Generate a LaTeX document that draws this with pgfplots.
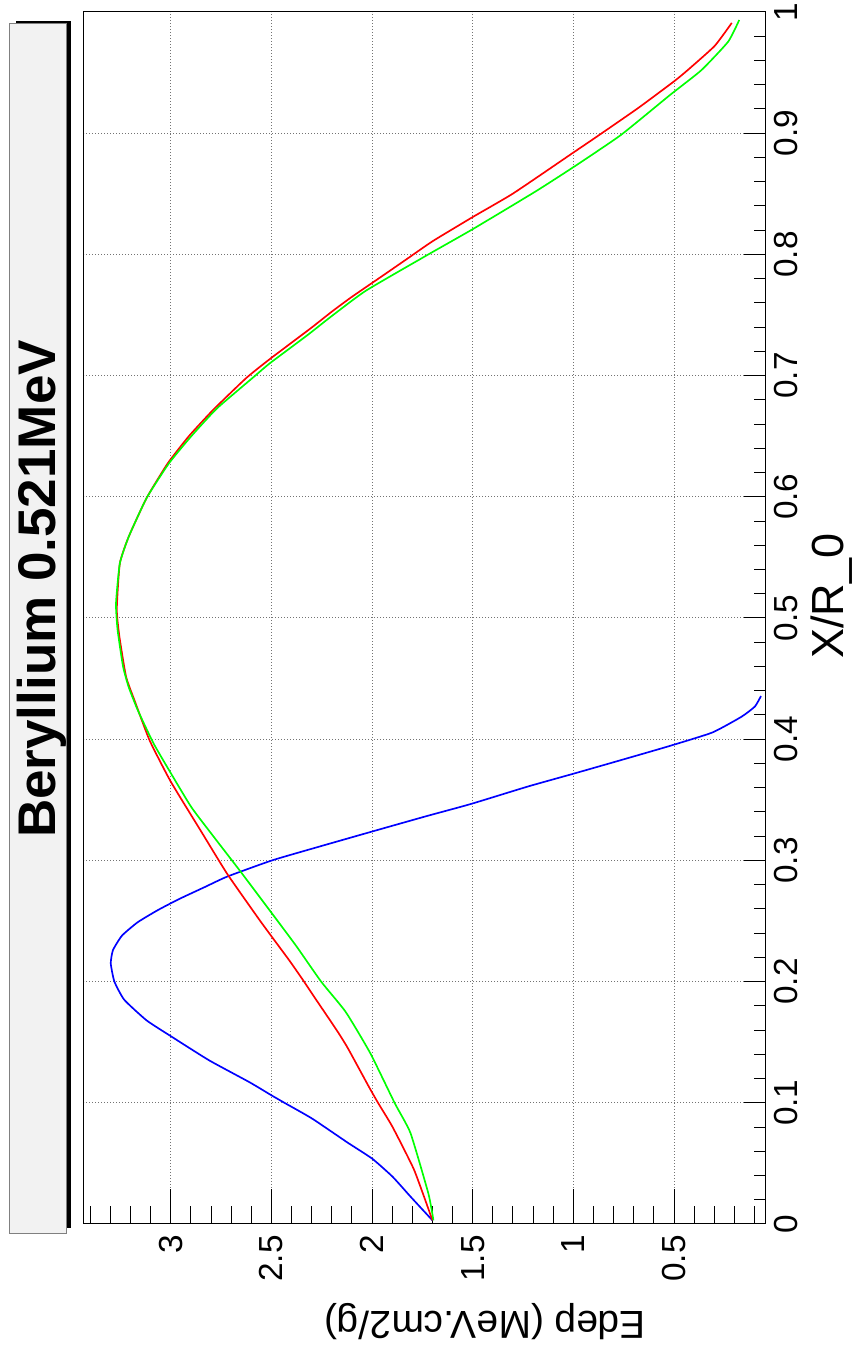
\documentclass[border=0pt]{standalone}
\usepackage{pgfplots}
\pgfplotsset{compat=1.18}
\usepackage{fontspec}
\setmainfont{Liberation Sans}
\definecolor{rootred}{RGB}{255,0,0}
\definecolor{rootgreen}{RGB}{0,255,0}
\definecolor{rootblue}{RGB}{0,0,255}
\definecolor{titlegray}{RGB}{242,242,242}

\pgfplotstableread{
v u
1.700 0.003
1.809 0.0226
1.898 0.039
2.000 0.054
2.120 0.067
2.298 0.087
2.431 0.0996
2.498 0.106
2.609 0.117
2.809 0.135
3.000 0.155
3.120 0.168
3.231 0.185
3.280 0.200
3.298 0.215
3.287 0.226
3.242 0.238
3.164 0.249
3.064 0.259
2.960 0.268
2.831 0.278
2.720 0.2866
2.497 0.300
2.270 0.311
1.996 0.324
1.730 0.3365
1.510 0.3465
1.225 0.361
1.000 0.3715
0.800 0.3810
0.530 0.394
0.310 0.4055
0.164 0.4186
0.098 0.427
0.068 0.4356
}\blueset

\pgfplotstableread{
v u
1.700 0.003
1.791 0.0446
1.898 0.080
1.969 0.0996
2.015 0.113
2.120 0.145
2.176 0.160
2.298 0.190
2.342 0.201
2.409 0.217
2.498 0.237
2.564 0.252
2.720 0.289
2.853 0.325
3.000 0.365
3.105 0.399
3.180 0.432
3.222 0.4516
3.255 0.4846
3.268 0.507
3.253 0.545
3.209 0.567
3.120 0.599
3.015 0.6276
2.910 0.650
2.790 0.6716
2.625 0.698
2.505 0.714
2.305 0.739
2.198 0.753
2.100 0.765
1.942 0.783
1.820 0.797
1.698 0.811
1.498 0.831
1.298 0.8504
1.009 0.883
0.876 0.898
0.676 0.921
0.498 0.943
0.431 0.9522
0.298 0.972
0.213 0.991
}\redset

\pgfplotstableread{
v u
1.695 0.003
1.720 0.025
1.809 0.075
1.887 0.0996
2.009 0.141
2.131 0.175
2.253 0.200
2.375 0.229
2.487 0.254
2.653 0.2907
2.787 0.3196
2.898 0.344
3.009 0.3746
3.087 0.397
3.164 0.424
3.209 0.443
3.237 0.460
3.264 0.490
3.272 0.512
3.253 0.545
3.209 0.567
3.120 0.599
3.009 0.6276
2.898 0.650
2.770 0.673
2.587 0.699
2.509 0.710
2.320 0.7335
2.209 0.748
2.031 0.770
1.720 0.800
1.498 0.821
1.187 0.852
0.996 0.8724
0.764 0.8985
0.520 0.9315
0.364 0.952
0.231 0.9755
0.176 0.9934
}\greenset

\begin{document}
\begin{tikzpicture}
\useasboundingbox (0,0) rectangle (511.2pt,808.2pt);
% title box with shadow
\fill[black] (9.6pt,71.4pt) rectangle (42.4pt,795.8pt);
\filldraw[fill=titlegray, draw=gray, line width=0.6pt] (5.8pt,68.2pt) rectangle (40.0pt,793.8pt);
\node[rotate=90, font=\fontsize{31.8}{36}\selectfont\bfseries, inner sep=0pt] at (25.0pt,454.8pt) {Beryllium 0.521MeV};
\begin{axis}[
  at={(50.4pt,73.8pt)}, anchor=south west,
  scale only axis, width=408.6pt, height=727.2pt,
  x dir=reverse,
  xmin=0.048, xmax=3.431, ymin=0, ymax=1,
  xtick={0.5,1,1.5,2,2.5,3},
  xticklabels={0.5,1,1.5,2,2.5,3},
  minor xtick={0.1,0.2,0.3,0.4,0.6,0.7,0.8,0.9,1.1,1.2,1.3,1.4,1.6,1.7,1.8,1.9,2.1,2.2,2.3,2.4,2.6,2.7,2.8,2.9,3.1,3.2,3.3,3.4},
  ytick={0,0.1,0.2,0.3,0.4,0.5,0.6,0.7,0.8,0.9,1},
  yticklabels={0,0.1,0.2,0.3,0.4,0.5,0.6,0.7,0.8,0.9,1},
  minor ytick={0.02,0.04,0.06,0.08,0.12,0.14,0.16,0.18,0.22,0.24,0.26,0.28,0.32,0.34,0.36,0.38,0.42,0.44,0.46,0.48,0.52,0.54,0.56,0.58,0.62,0.64,0.66,0.68,0.72,0.74,0.76,0.78,0.82,0.84,0.86,0.88,0.92,0.94,0.96,0.98},
  xtick pos=bottom, ytick pos=right, yticklabel pos=right,
  tick align=inside,
  xtick style={/pgfplots/major tick length=21pt, /pgfplots/minor tick length=10.5pt},
  ytick style={/pgfplots/major tick length=12.4pt, /pgfplots/minor tick length=6.8pt},
  every tick/.append style={black, line width=0.6pt},
  axis line style={black, line width=0.6pt},
  grid=major,
  major grid style={black!55, line width=0.6pt, dash pattern=on 0.6pt off 1.2pt},
  ticklabel style={font=\fontsize{20}{23}\selectfont, inner sep=0pt},
  xticklabel style={rotate=90, anchor=east},
  yticklabel style={rotate=90, anchor=north},
  xticklabel shift=6.6pt,
  yticklabel shift=5.4pt,
  xlabel={Edep (MeV.cm2/g)},
  ylabel={X/R\_0},
  xlabel style={at={(axis description cs:0.589,-0.0809)}, anchor=center, rotate=180, font=\fontsize{23.4}{27}\selectfont, inner sep=0pt},
  ylabel style={at={(axis description cs:1.098,0.518)}, anchor=center, font=\fontsize{27}{31}\selectfont, inner sep=0pt},
]
\addplot[rootblue, line width=1pt, smooth, tension=0.3] table[x=v, y=u] {\blueset};
\addplot[rootred, line width=1pt, smooth, tension=0.3] table[x=v, y=u] {\redset};
\addplot[rootgreen, line width=1pt, smooth, tension=0.3] table[x=v, y=u] {\greenset};
\end{axis}
\end{tikzpicture}
\end{document}
